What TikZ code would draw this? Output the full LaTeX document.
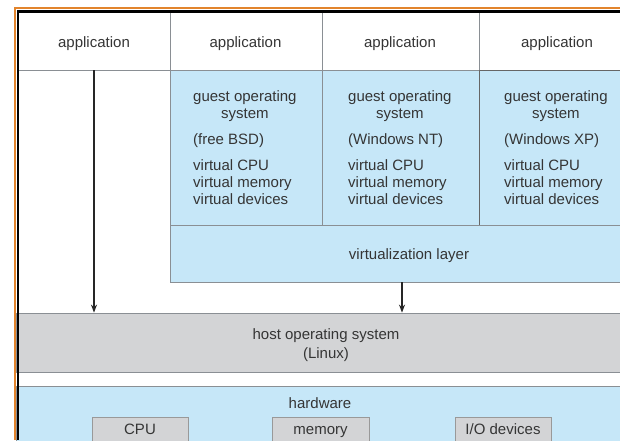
\documentclass[tikz,border=0pt]{standalone}
\usepackage{fontspec}
\setmainfont{Liberation Sans}
\usetikzlibrary{arrows.meta,calc}
\definecolor{vmblue}{HTML}{C6E7F8}
\definecolor{hostgray}{HTML}{D3D4D6}
\definecolor{edgegray}{HTML}{8A8F94}
\definecolor{txt}{HTML}{353535}
\definecolor{frameorange}{HTML}{E2842C}
\tikzset{
  cell/.style={draw=edgegray, line width=0.8pt, inner sep=0pt},
  appcell/.style={cell, fill=white},
  bluecell/.style={cell, fill=vmblue},
  graycell/.style={cell, fill=hostgray},
  hwbox/.style={cell, fill=hostgray, draw=gray!80},
  lbl/.style={inner sep=0pt, text=txt, font=\fontsize{15}{17}\selectfont},
  blbl/.style={lbl, anchor=base},
  arr/.style={draw=black!85, line width=1.3pt, -{Stealth[length=8pt,width=6pt]}}
}
\newcommand{\guesttext}[1]{\begin{tabular}{@{}l@{}}\multicolumn{1}{@{}c@{}}{guest operating}\\ \multicolumn{1}{@{}c@{}}{system}\\[9pt] #1\\[9pt] virtual CPU\\ virtual memory\\ virtual devices\end{tabular}}
\begin{document}
\begin{tikzpicture}[x=1pt,y=-1pt]
\useasboundingbox (0,0) rectangle (620,440);
\clip (0,0) rectangle (620,440);
\fill[white] (0,0) rectangle (620,440);
% application row
\node[appcell, minimum width=152pt, minimum height=58pt] (app0) at (94,41) {};
\node[appcell, minimum width=152pt, minimum height=58pt] (app1) at (246,41) {};
\node[appcell, minimum width=157pt, minimum height=58pt] (app2) at (400.5,41) {};
\node[appcell, minimum width=156pt, minimum height=58pt] (app3) at (557,41) {};
\node[blbl] (at0) at (94,47) {application};
\node[blbl] (at1) at (245.5,47) {application};
\node[blbl] (at2) at (400,47) {application};
\node[blbl] (at3) at (557,47) {application};
% guest boxes
\node[bluecell, minimum width=152pt, minimum height=155pt] (g1) at (246,147.5) {};
\node[bluecell, minimum width=157pt, minimum height=155pt] (g2) at (400.5,147.5) {};
\node[bluecell, draw=black!60, minimum width=156pt, minimum height=155pt] (g3) at (557,147.5) {};
\node[lbl, anchor=north west] (t1) at (193,89) {\guesttext{(free BSD)}};
\node[lbl, anchor=north west] (t2) at (348,89) {\guesttext{(Windows NT)}};
\node[lbl, anchor=north west] (t3) at (504,89) {\guesttext{(Windows XP)}};
% virtualization layer
\node[bluecell, minimum width=478pt, minimum height=57pt] (virt) at (409,253.5) {};
\node[blbl] (vt) at (409,259) {virtualization layer};
% host OS
\node[graycell, minimum width=620pt, minimum height=59pt] (host) at (326,342.5) {};
\node[blbl] (ht1) at (326,339.5) {host operating system};
\node[blbl] (ht2) at (326,358) {(Linux)};
% hardware
\node[bluecell, minimum width=620pt, minimum height=70pt] (hw) at (326,421) {};
\node[blbl] (hwt) at (320,408) {hardware};
\node[hwbox, minimum width=96pt, minimum height=28pt] (cpu) at (140,431) {};
\node[hwbox, minimum width=97pt, minimum height=28pt] (mem) at (320.5,431) {};
\node[hwbox, minimum width=96pt, minimum height=28pt] (io) at (503,431) {};
\node[blbl] (cput) at (cpu.center |- 0,434.5) {CPU};
\node[blbl] (memt) at (mem.center |- 0,434) {memory};
\node[blbl] (iot) at (io.center |- 0,434.5) {I/O devices};
% arrows
\coordinate (a1) at (94,70);
\coordinate (a2) at (402,282);
\draw[arr] (a1) -- (a1 |- host.north);
\draw[arr] (a2) -- (a2 |- host.north);
% frame
\draw[frameorange, line width=2pt] (15,440) -- (15,8) -- (620,8);
\draw[black, line width=2.5pt] (620,11.5) -- (17,11.5);
\draw[black, line width=1.5pt] (18,11) -- (18,440);
\end{tikzpicture}
\end{document}
